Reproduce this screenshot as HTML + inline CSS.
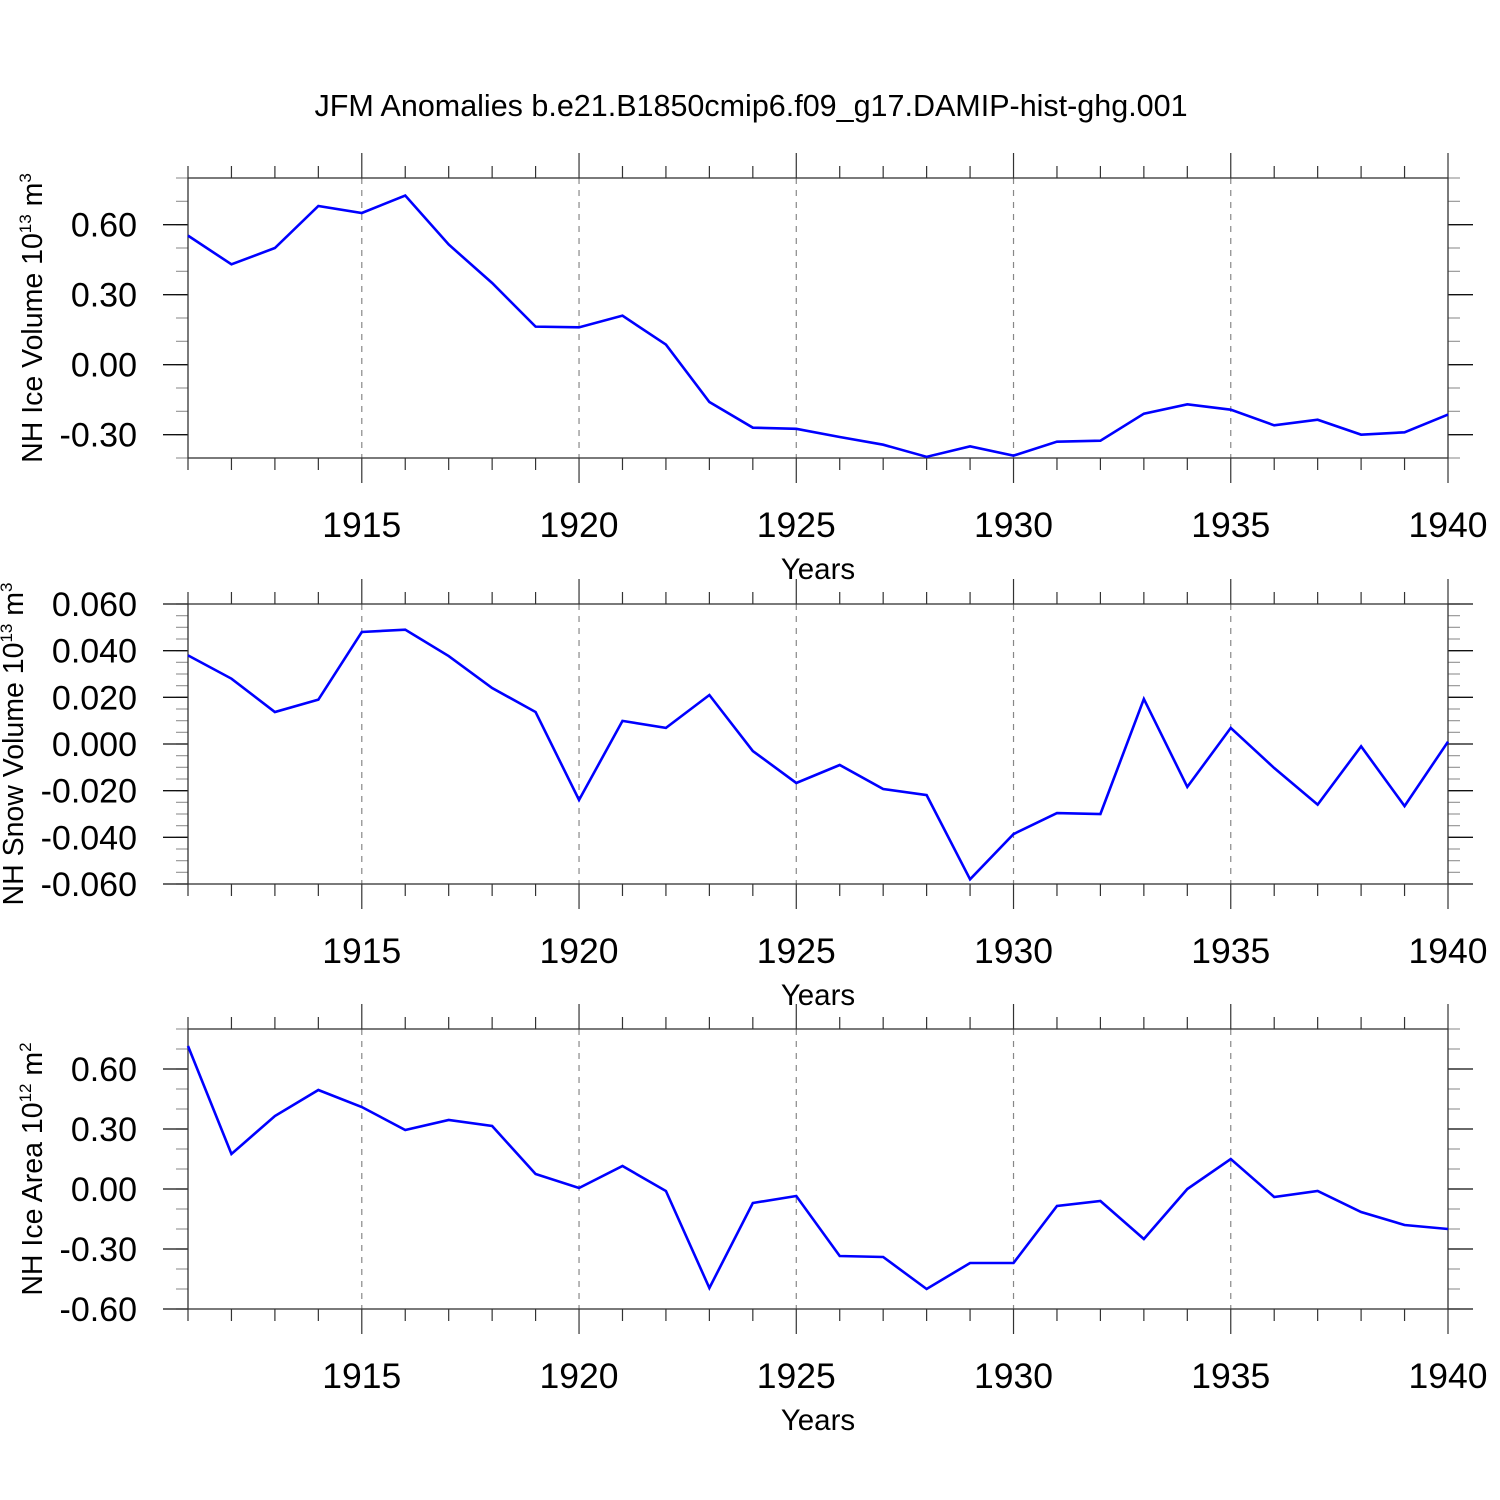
<!DOCTYPE html>
<html><head><meta charset="utf-8"><style>
html,body{margin:0;padding:0;background:#fff;}
svg{display:block;font-family:"Liberation Sans",Arial,sans-serif;}
</style></head><body>
<svg id="chart" width="1500" height="1500" viewBox="0 0 1500 1500">
<text x="751" y="116" font-size="30.5" text-anchor="middle">JFM Anomalies b.e21.B1850cmip6.f09_g17.DAMIP-hist-ghg.001</text>
</svg>
<script>
const years = [1911,1912,1913,1914,1915,1916,1917,1918,1919,1920,1921,1922,1923,1924,1925,1926,1927,1928,1929,1930,1931,1932,1933,1934,1935,1936,1937,1938,1939,1940];
const iceVolume = [0.553,0.43,0.50,0.68,0.65,0.725,0.515,0.35,0.163,0.16,0.21,0.086,-0.16,-0.27,-0.275,-0.31,-0.343,-0.395,-0.35,-0.39,-0.33,-0.326,-0.21,-0.17,-0.193,-0.26,-0.236,-0.30,-0.29,-0.214];
const snowVolume = [0.038,0.028,0.0137,0.019,0.048,0.049,0.0377,0.024,0.0137,-0.024,0.0099,0.0069,0.021,-0.003,-0.0167,-0.009,-0.0193,-0.0219,-0.058,-0.0386,-0.0296,-0.030,0.0193,-0.0184,0.0069,-0.0103,-0.026,-0.001,-0.0266,0.001];
const iceArea = [0.715,0.175,0.365,0.495,0.41,0.295,0.345,0.315,0.075,0.005,0.115,-0.01,-0.495,-0.07,-0.035,-0.335,-0.34,-0.50,-0.37,-0.37,-0.085,-0.06,-0.25,0,0.15,-0.04,-0.01,-0.115,-0.18,-0.20];
const xTickLabels = [1915,1920,1925,1930,1935,1940];
const iceVolumeTicks = [0.6,0.3,0,-0.3];
const snowVolumeTicks = [0.06,0.04,0.02,0,-0.02,-0.04,-0.06];
const iceAreaTicks = [0.6,0.3,0,-0.3,-0.6];

const svg = document.getElementById('chart');
const NS = 'http://www.w3.org/2000/svg';
function mk(tag, attrs, parent){const e=document.createElementNS(NS,tag);for(const k in attrs)e.setAttribute(k,attrs[k]);(parent||svg).appendChild(e);return e;}
const X0=188, X1=1448;
const xs = y => X0 + (y-1911)*(X1-X0)/29;

function panel(name, top, ymin, ymax, values, ticks, minorStep, decimals, titleParts, titleX){
  const bot = top+280;
  const ys = v => bot - (v-ymin)*(280)/(ymax-ymin);
  const g = mk('g',{});
  
  
  for(let yr=1915; yr<1940; yr+=5){
    const l = mk('line',{x1:xs(yr),x2:xs(yr),y1:top,y2:bot,stroke:'#888','stroke-width':1.2,'stroke-dasharray':'6,6'},g);
    
    
  }
  for(let yr=1911; yr<=1940; yr++){
    const major = yr%5===0;
    const len = major?25:12;
    mk('line',{x1:xs(yr),x2:xs(yr),y1:top-len,y2:top,stroke:'#333','stroke-width':1.2},g);
    mk('line',{x1:xs(yr),x2:xs(yr),y1:bot,y2:bot+len,stroke:'#333','stroke-width':1.2},g);
  }
  const n = Math.round((ymax-ymin)/minorStep);
  for(let i=0;i<=n;i++){
    const v = ymin+i*minorStep; const y=ys(v);
    mk('line',{x1:X0-12,x2:X0,y1:y,y2:y,stroke:'#999','stroke-width':1.2},g);
    mk('line',{x1:X1,x2:X1+12,y1:y,y2:y,stroke:'#999','stroke-width':1.2},g);
  }
  ticks.forEach(v=>{
    const y=ys(v);
    mk('line',{x1:X0-25,x2:X0,y1:y,y2:y,stroke:'#111','stroke-width':1.3},g);
    mk('line',{x1:X1,x2:X1+25,y1:y,y2:y,stroke:'#111','stroke-width':1.3},g);
    const t = mk('text',{x:137,y:y+12,'font-size':34,'text-anchor':'end'},g);
    t.textContent = (v<0?'-':'')+Math.abs(v).toFixed(decimals);
    
    
  });
  const box = mk('rect',{x:X0,y:top,width:X1-X0,height:280,fill:'none',stroke:'#333','stroke-width':1.3},g);
  
  
  xTickLabels.forEach(yr=>{
    const t = mk('text',{x:xs(yr),y:bot+79,'font-size':35.5,'text-anchor':'middle'},g);
    t.textContent = yr;
    
    
  });
  const xt = mk('text',{x:818,y:bot+121,'font-size':29.5,'text-anchor':'middle'},g);
  xt.textContent='Years';
  
  
  const cy = top+140;
  const yt = mk('text',{transform:`translate(${titleX},${cy}) rotate(-90)`,'font-size':28.5,'text-anchor':'middle'},g);
  
  
  const s1 = mk('tspan',{},yt); s1.textContent=titleParts[0];
  const s2 = mk('tspan',{dy:-11,'font-size':17},yt); s2.textContent=titleParts[1];
  const s3 = mk('tspan',{dy:11},yt); s3.textContent=' m';
  const s4 = mk('tspan',{dy:-11,'font-size':17},yt); s4.textContent=titleParts[2];
  const pts = values.map((v,i)=>xs(years[i])+','+ys(v)).join(' ');
  const pl = mk('polyline',{points:pts,fill:'none',stroke:'#0000ff','stroke-width':2.6,'stroke-linejoin':'miter'},g);
  
  
}
panel('ice-volume',178,-0.4,0.8,iceVolume,iceVolumeTicks,0.1,2,['NH Ice Volume 10','13','3'],42);
panel('snow-volume',604,-0.06,0.06,snowVolume,snowVolumeTicks,0.005,3,['NH Snow Volume 10','13','3'],23);
panel('ice-area',1029,-0.6,0.8,iceArea,iceAreaTicks,0.1,2,['NH Ice Area 10','12','2'],42);
</script>
</body></html>
